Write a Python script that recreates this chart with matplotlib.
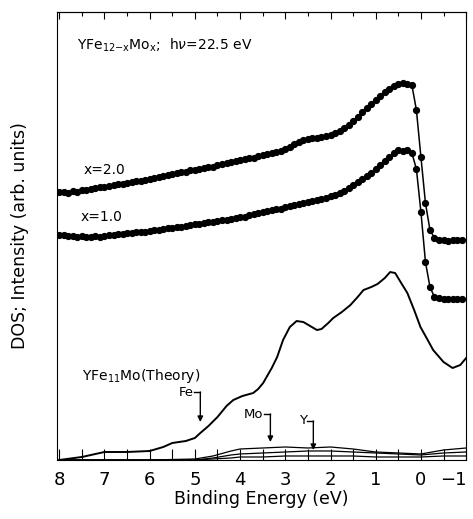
import numpy as np
import matplotlib
matplotlib.use("Agg")
import matplotlib.pyplot as plt
from matplotlib.ticker import MultipleLocator

# binding energies of the measured spectra (eV), 0.1 eV steps from 8.0 down to -0.9
energy = np.round(np.arange(8.0, -0.95, -0.1), 2)

# x = 2.0 spectrum (arb. units)
spec_x20 = [268, 268, 267, 269, 268, 270, 270, 271, 272, 273,
            273, 274, 275, 276, 276, 277, 278, 279, 279, 280,
            281, 282, 283, 284, 285, 286, 287, 288, 288, 290,
            290, 291, 292, 293, 293, 295, 296, 297, 298, 299,
            300, 301, 302, 302, 304, 305, 306, 307, 308, 309,
            311, 313, 316, 318, 320, 321, 322, 322, 323, 324,
            325, 327, 329, 332, 335, 339, 343, 348, 352, 356,
            360, 364, 368, 371, 374, 376, 377, 376, 375, 350,
            303, 257, 230, 222, 220, 220, 219, 220, 220, 220]

# x = 1.0 spectrum (arb. units)
spec_x10 = [225, 225, 224, 224, 223, 224, 223, 223, 224, 223,
            224, 225, 225, 226, 226, 227, 227, 228, 228, 228,
            229, 230, 230, 231, 232, 232, 233, 233, 234, 235,
            236, 236, 237, 238, 238, 239, 240, 240, 241, 242,
            243, 243, 245, 246, 247, 248, 249, 250, 251, 251,
            253, 254, 255, 256, 257, 258, 259, 260, 261, 262,
            264, 265, 267, 269, 272, 275, 278, 281, 284, 287,
            291, 295, 299, 303, 307, 310, 309, 310, 307, 291,
            248, 198, 173, 163, 162, 161, 161, 161, 161, 161]

# calculated total DOS, YFe11Mo
theo_e = [8.0, 7.5, 7.0, 6.5, 6.0, 5.7, 5.5, 5.2, 5.0, 4.88, 4.7, 4.5, 4.3, 4.15,
          3.95, 3.71, 3.6, 3.49, 3.3, 3.18, 3.05, 2.9, 2.75, 2.6, 2.45, 2.3, 2.2,
          2.05, 1.94, 1.75, 1.56, 1.4, 1.27, 1.1, 0.96, 0.8, 0.68, 0.57, 0.45, 0.3,
          0.15, 0.01, -0.15, -0.27, -0.5, -0.7, -0.87, -1.0]
theo_dos = [0, 3, 8, 8, 9, 13, 17, 19, 22, 27, 34, 43, 54, 60,
            64, 67, 71, 77, 92, 103, 120, 133, 139, 138, 134, 130, 131,
            137, 142, 148, 155, 163, 170, 173, 176, 182, 188, 187, 178, 167,
            150, 133, 120, 110, 98, 92, 95, 102]

# partial DOS near the baseline
pdos_e = [8.0, 6.0, 5.0, 4.6, 4.2, 4.0, 3.5, 3.0, 2.5, 2.0, 1.5, 1.0, 0.5, 0.0, -0.5, -1.0]
pdos_mo = [0, 0, 1, 4, 9, 11, 12, 13, 12, 13, 11, 8, 7, 6, 10, 12]
pdos_y = [0, 0, 0, 2, 5, 6, 7, 8, 9, 9, 8, 7, 6, 5, 7, 8]
pdos_lo = [0, 0, 0, 1, 2, 3, 3, 4, 4, 4, 4, 3, 3, 3, 4, 4]

# arrows: (label, energy, corner height, tip height)
arrows = [("Fe", 4.88, 68, 38), ("Mo", 3.33, 46, 18), ("Y", 2.38, 39, 10)]

fig = plt.figure(figsize=(4.73, 5.19), dpi=100)
ax = fig.add_axes([0.1205, 0.1137, 0.865, 0.863])

ax.plot(energy, spec_x20, "-o", color="black", lw=1.1, ms=4.2)
ax.plot(energy, spec_x10, "-o", color="black", lw=1.1, ms=4.2)
ax.plot(theo_e, theo_dos, "-", color="black", lw=1.4)
ax.plot(pdos_e, pdos_mo, "-", color="black", lw=0.9)
ax.plot(pdos_e, pdos_y, "-", color="black", lw=0.9)
ax.plot(pdos_e, pdos_lo, "-", color="black", lw=0.9)

for name, e, corner, tip in arrows:
    ax.plot([e + 0.15, e], [corner, corner], color="black", lw=1.0)
    ax.annotate("", xy=(e, tip), xytext=(e, corner),
                arrowprops=dict(arrowstyle="-|>", color="black", lw=1.0,
                                mutation_scale=8, shrinkA=0, shrinkB=0))
    ax.text(e + 0.15, corner, name, ha="right", va="center", fontsize=9.5)

ax.text(7.6, 415, r"YFe$_{12\mathrm{-x}}$Mo$_\mathrm{x}$;  h$\nu$=22.5 eV",
        fontsize=10, va="center", ha="left")
ax.text(7.47, 290, "x=2.0", fontsize=10, va="center", ha="left")
ax.text(7.53, 243, "x=1.0", fontsize=10, va="center", ha="left")
ax.text(7.5, 84, r"YFe$_{11}$Mo(Theory)", fontsize=10, va="center", ha="left")

ax.set_xlim(8.05, -1.0)
ax.set_ylim(0, 448)
ax.set_xticks(range(8, -2, -1))
ax.set_xticklabels([str(v) if v >= 0 else "\u22121" for v in range(8, -2, -1)])
ax.xaxis.set_minor_locator(MultipleLocator(0.5))
ax.tick_params(axis="x", which="both", direction="in", labelsize=13, pad=8,
               length=8, width=0.8)
ax.get_xticklabels()[-1].set_horizontalalignment("right")
ax.set_yticks([])

top = ax.secondary_xaxis("top")
top.set_xticks(range(8, -2, -1))
top.xaxis.set_minor_locator(MultipleLocator(0.5))
top.tick_params(axis="x", which="major", direction="in", length=5, width=0.8, labeltop=False)
top.tick_params(axis="x", which="minor", direction="in", length=3, width=0.8)

ax.set_xlabel("Binding Energy (eV)", fontsize=12.5, labelpad=1)
ax.set_ylabel("DOS; Intensity (arb. units)", fontsize=12.5, labelpad=20)

fig.savefig("out.png", dpi=100)
